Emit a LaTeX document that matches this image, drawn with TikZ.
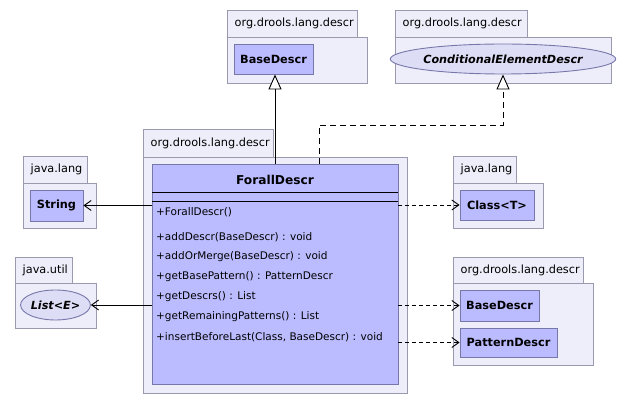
\documentclass[tikz,border=0pt]{standalone}
\usepackage{fontspec}
\setmainfont{DejaVu Sans}
\usetikzlibrary{arrows.meta,shapes.geometric}
\definecolor{pkgfill}{HTML}{EEEEFA}
\definecolor{pkgline}{HTML}{9A9AAE}
\definecolor{clsfill}{HTML}{BBBBFF}
\definecolor{clsline}{HTML}{7777AA}
\definecolor{ellfill}{HTML}{DDDDF6}
\tikzset{
  pkgshape/.style={draw=pkgline, fill=pkgfill, line width=0.9pt},
  pkglabel/.style={font=\fontsize{11.3}{13}\selectfont, inner sep=0pt, anchor=west},
  cls/.style={draw=clsline, fill=clsfill, line width=0.9pt, font=\fontsize{11.3}{13}\selectfont\bfseries, inner sep=0pt},
  iface/.style={ellipse, draw=clsline, fill=ellfill, line width=0.9pt, font=\fontsize{11.2}{13}\selectfont\bfseries\itshape, inner sep=0pt},
  member/.style={font=\fontsize{10.5}{12}\selectfont, inner sep=0pt, anchor=west},
  dep/.style={-{Straight Barb[length=7pt,width=10pt,line width=0.9pt]}, line width=0.9pt},
  depdash/.style={dep, dash pattern=on 4pt off 3pt},
  gen/.style={-{Triangle[open,fill=white,length=15pt,width=13pt,line width=0.9pt]}, line width=0.9pt},
  realiz/.style={gen, dash pattern=on 6pt off 4pt},
}
\newcommand\umlpkg[7]{%
  \draw[pkgshape] (#1,#3) rectangle (#2,#4);
  \draw[pkgshape] (#1,#4) rectangle (#5,#6);
  \node[pkglabel] at ({#1+7.5},{(#3+#4)/2}) {#7};
}
\begin{document}
\begin{tikzpicture}[x=1pt,y=-1pt]
\useasboundingbox[fill=white] (0,0) rectangle (627,403);

% packages
\umlpkg{227}{357}{10}{37}{367}{83}{org.drools.lang.descr}
\umlpkg{395}{527}{10}{37}{611}{83}{org.drools.lang.descr}
\umlpkg{143}{273}{129}{157}{407}{393}{org.drools.lang.descr}
\umlpkg{23}{87}{156}{183}{96}{228}{java.lang}
\umlpkg{15}{72}{257}{283}{96}{328}{java.util}
\umlpkg{453}{516}{156}{183}{543}{228}{java.lang}
\umlpkg{453}{583}{257}{283}{593}{365}{org.drools.lang.descr}

% classes
\node[cls, minimum width=79pt, minimum height=30pt] (base1) at (273.5,59) {BaseDescr};
\node[iface, minimum width=200pt, minimum height=30pt] (ced) at (503,59) {ConditionalElementDescr};
\node[cls, minimum width=53pt, minimum height=31pt] (string) at (56.5,205.5) {String};
\node[iface, minimum width=65pt, minimum height=30pt] (list) at (55.5,305) {List<E>};
\node[cls, minimum width=74pt, minimum height=30pt] (classT) at (497,205) {Class<T>};
\node[cls, minimum width=79pt, minimum height=31pt] (base2) at (499.5,305.5) {BaseDescr};
\node[cls, minimum width=97pt, minimum height=29pt] (pattern) at (508.5,342.5) {PatternDescr};

% main class
\node[draw=clsline, fill=clsfill, line width=0.9pt, minimum width=246pt, minimum height=220pt, inner sep=0pt] (forall) at (275,274) {};
\node[font=\fontsize{12.2}{14}\selectfont\bfseries, inner sep=0pt] (title) at (275,180) {ForallDescr};
\draw[line width=0.9pt] (152,192) -- (398,192);
\draw[line width=0.9pt] (152,201) -- (398,201);
\node[member] (m1) at (156,212) {+ForallDescr()};
\node[member] (m2) at (156,237) {+addDescr(BaseDescr) : void};
\node[member] (m3) at (156,257) {+addOrMerge(BaseDescr) : void};
\node[member] (m4) at (156,277) {+getBasePattern() : PatternDescr};
\node[member] (m5) at (156,297) {+getDescrs() : List};
\node[member] (m6) at (156,317) {+getRemainingPatterns() : List};
\node[member] (m7) at (156,337) {+insertBeforeLast(Class, BaseDescr) : void};

% connectors
\coordinate (genx) at (275,0);
\draw[gen] (genx |- forall.north) -- (genx |- base1.south);
\coordinate (bend) at (319,125);
\draw[realiz] (bend |- forall.north) -- (bend) -| (ced.south);
\draw[dep] (forall.west |- string) -- (string.east);
\draw[dep] (forall.west |- list) -- (list.east);
\draw[depdash] (forall.east |- classT) -- (classT.west);
\draw[depdash] (forall.east |- base2) -- (base2.west);
\draw[depdash] (forall.east |- pattern) -- (pattern.west);
\end{tikzpicture}
\end{document}
